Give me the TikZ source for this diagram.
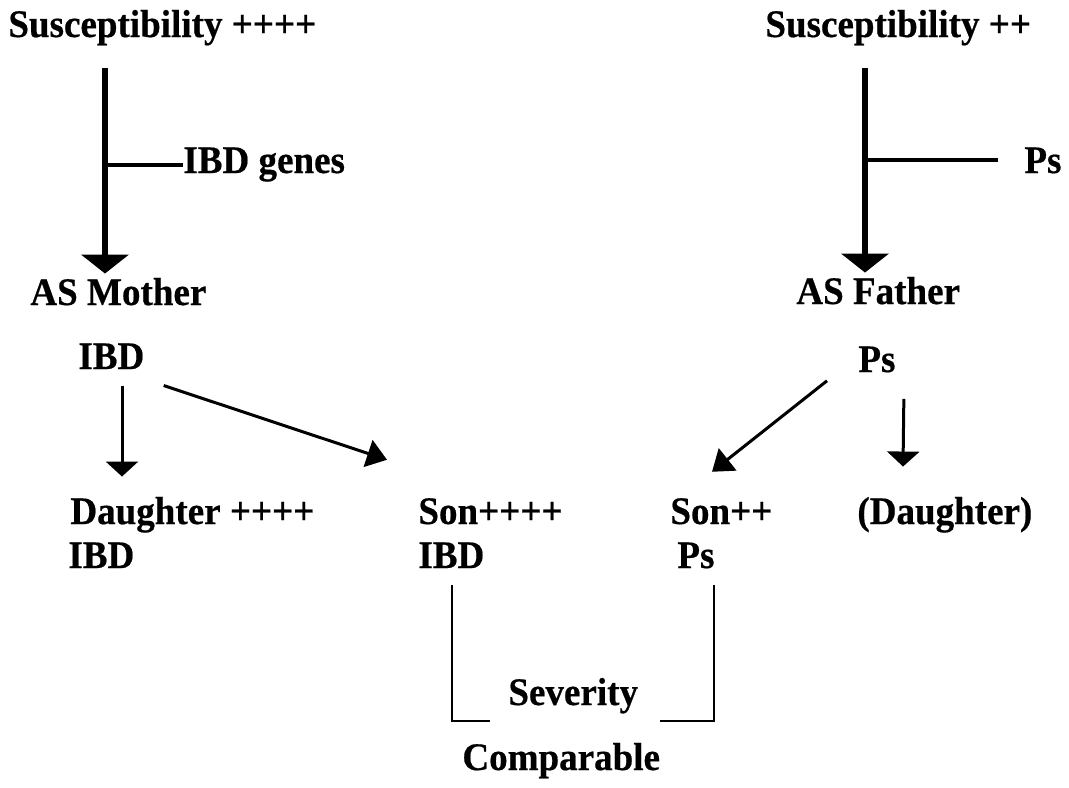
\documentclass[tikz,border=0pt]{standalone}
\usepackage{fontspec}
\setmainfont{Liberation Serif}[BoldFeatures={FakeStretch=0.95,FakeBold=0.5}]
\usetikzlibrary{arrows.meta,calc}
\begin{document}
\begin{tikzpicture}[x=0.5pt,y=-0.5pt,
  lbl/.style={inner sep=0pt,anchor=base west,font=\fontsize{19.5pt}{21pt}\selectfont\bfseries},
  bigarrow/.style={line width=2.6pt,-{Triangle[width=23.5pt,length=9.5pt]}},
  branch/.style={line width=2pt},
  thinarrow/.style={line width=1.5pt,-{Triangle[width=16pt,length=7.5pt]}},
  diagarrow/.style={line width=1.5pt,-{Triangle[width=14pt,length=10pt]}},
  bracket/.style={line width=1.3pt}]
\useasboundingbox (0,0) rectangle (1069,787);

% parents and their sources
\node[lbl] (sus1) at (8,37) {Susceptibility ++++};
\node[lbl] (sus2) at (765,37) {Susceptibility ++};
\node[lbl] (genes) at (183,173) {IBD genes};
\node[lbl] (psin) at (1024,173) {Ps};
\node[lbl] (mother) at (30,305) {AS Mother};
\node[lbl] (father) at (796,304) {AS Father};
\node[lbl] (ibd1) at (78,369) {IBD};
\node[lbl] (ps1) at (858,372) {Ps};

% offspring
\node[lbl] (dau1) at (70,524) {Daughter ++++};
\node[lbl] (son1) at (418,524) {Son++++};
\node[lbl] (son2) at (670,524) {Son++};
\node[lbl] (dau2) at (857,524) {(Daughter)};
\node[lbl] (ibd2) at (68,568) {IBD};
\node[lbl] (ibd3) at (418,568) {IBD};
\node[lbl] (ps2) at (677,568) {Ps};
\node[lbl] (sev) at (508,705) {Severity};
\node[lbl] (comp) at (462,770) {Comparable};

% transmission to the parents
\coordinate (mtop) at ($(sus1.south west)+(97,22)$);
\coordinate (ftop) at ($(sus2.south west)+(100,22)$);
\draw[bigarrow] (mtop) -- ($(mother.north west)+(75,-4)$);
\draw[branch] (mtop |- genes.west) -- (genes.west);
\draw[bigarrow] (ftop) -- ($(father.north west)+(69,-4)$);
\draw[branch] (ftop |- psin.west) -- ([xshift=-13pt]psin.west);

% transmission to the children
\draw[thinarrow] ($(ibd1.south west)+(44,16)$) -- ($(dau1.north west)+(52,-20)$);
\draw[diagarrow] ($(ibd1.south east)+(19,16)$) -- ($(son1.north west)+(-31,-38)$);
\draw[diagarrow] ($(ps1.south west)+(-31,8)$) -- ($(son2.north west)+(42,-26)$);
\draw[thinarrow] ($(ps1.south east)+(8,26)$) -- ($(dau2.north west)+(46,-30)$);

% severity bracket
\draw[bracket] ($(ibd3.south west)+(34,16)$) |- ($(sev.south west)+(-18,7)$);
\draw[bracket] ($(ps2.south east)+(-1,16)$) |- ($(sev.south east)+(22,7)$);
\end{tikzpicture}
\end{document}
